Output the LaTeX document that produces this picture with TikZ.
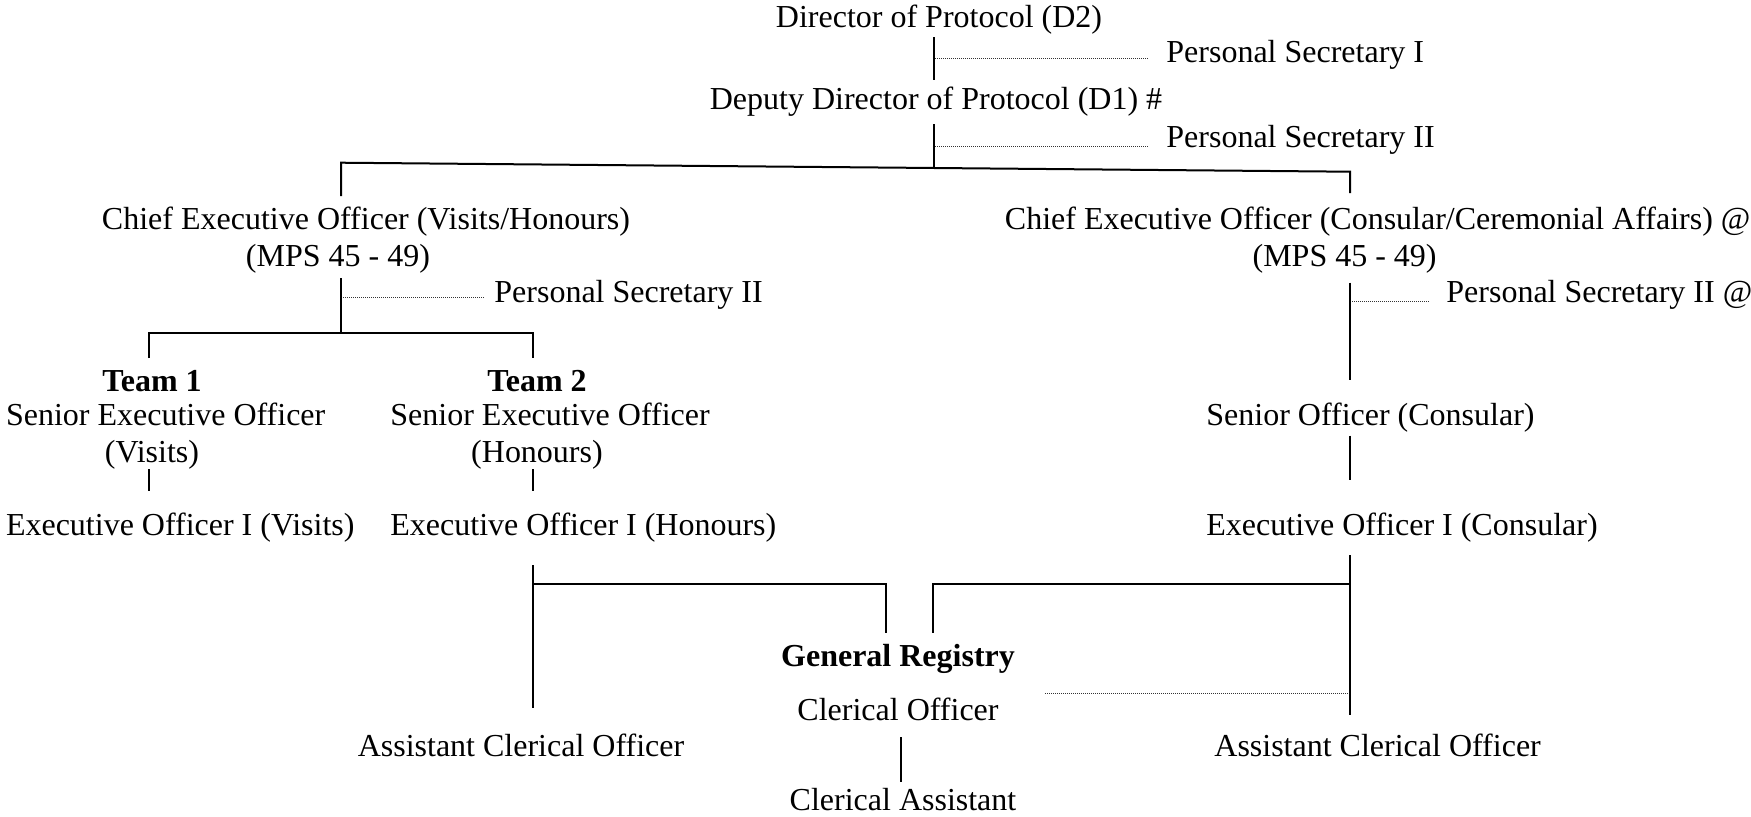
\documentclass[tikz,border=0pt]{standalone}
\usepackage{fontspec}
\setmainfont{Liberation Serif}
\begin{document}
\begin{tikzpicture}[x=0.5pt,y=-0.5pt,
  lbl/.style={inner sep=0pt, font=\fontsize{16}{18.4}\selectfont},
  hdr/.style={inner sep=0pt, font=\fontsize{16}{18.4}\selectfont\bfseries},
  orgline/.style={line width=1pt},
  secline/.style={line width=0.5pt, dash pattern=on 0.5pt off 0.5pt, black!80}]
\useasboundingbox (0,0) rectangle (1751,816);

% ---- posts ----
\node[lbl, anchor=base] (dir) at (939,27.5) {Director of Protocol (D2)};
\node[lbl, anchor=base west] (ps1) at (1166,62.5) {Personal Secretary I};
\node[lbl, anchor=base] (dep) at (936,109.5) {Deputy Director of Protocol (D1) \#};
\node[lbl, anchor=base west] (ps2) at (1166,147.5) {Personal Secretary II};

\node[lbl, anchor=base] (ceoA) at (366,229.5) {Chief Executive Officer (Visits/Honours)};
\node[lbl, anchor=base] (ceoAg) at (338,266.5) {(MPS 45 - 49)};
\node[lbl, anchor=base west] (psA) at (494,302.5) {Personal Secretary II};

\node[lbl, anchor=base] (ceoB) at (1377.6,229.5) {Chief Executive Officer (Consular/Ceremonial Affairs) @};
\node[lbl, anchor=base] (ceoBg) at (1344.6,266.5) {(MPS 45 - 49)};
\node[lbl, anchor=base west] (psB) at (1446,302.5) {Personal Secretary II @};

\node[hdr, anchor=base] (t1) at (152,391.5) {Team 1};
\node[lbl, anchor=base west] (seo1) at (5.6,425.5) {Senior Executive Officer};
\node[lbl, anchor=base] (seo1b) at (152,462.5) {(Visits)};
\node[lbl, anchor=base west] (eo1) at (5.6,535.5) {Executive Officer I (Visits)};

\node[hdr, anchor=base] (t2) at (537,391.5) {Team 2};
\node[lbl, anchor=base west] (seo2) at (390,425.5) {Senior Executive Officer};
\node[lbl, anchor=base] (seo2b) at (537,462.5) {(Honours)};
\node[lbl, anchor=base west] (eo2) at (390,535.5) {Executive Officer I (Honours)};

\node[lbl, anchor=base west] (soc) at (1206,425.5) {Senior Officer (Consular)};
\node[lbl, anchor=base west] (eoc) at (1206,535.5) {Executive Officer I (Consular)};

\node[hdr, anchor=base] (reg) at (898,666.5) {General Registry};
\node[lbl, anchor=base] (co) at (898,720.5) {Clerical Officer};
\node[lbl, anchor=base] (ca) at (903,810.5) {Clerical Assistant};
\node[lbl, anchor=base] (acoA) at (521,756.5) {Assistant Clerical Officer};
\node[lbl, anchor=base] (acoB) at (1377.6,756.5) {Assistant Clerical Officer};

% ---- junction points ----
\coordinate (dirS) at (933.5,37);
\coordinate (depN) at (933.5,80);
\coordinate (ps1J) at (935,58);
\coordinate (ps1W) at (1148,58);
\coordinate (depS) at (933.5,124);
\coordinate (barM) at (933.5,168);
\coordinate (ps2J) at (935,146.3);
\coordinate (ps2W) at (1148,146.3);
\coordinate (barL) at (341,162.7);
\coordinate (barR) at (1350,171.7);
\coordinate (ceoAN) at (341,196);
\coordinate (ceoBN) at (1350,193);

\coordinate (ceoAS) at (341,278);
\coordinate (teamM) at (341,333);
\coordinate (psAJ) at (343,297);
\coordinate (psAW) at (485,297);
\coordinate (teamL) at (149.3,333);
\coordinate (teamR) at (533.3,333);
\coordinate (t1N) at (149.3,358);
\coordinate (t2N) at (533.3,358);
\coordinate (seo1S) at (149,469);
\coordinate (eo1N) at (149,491);
\coordinate (seo2S) at (533,469);
\coordinate (eo2N) at (533,491);

\coordinate (ceoBS) at (1350,282.5);
\coordinate (socN) at (1350,380);
\coordinate (psBJ) at (1352,301.5);
\coordinate (psBW) at (1429,301.5);
\coordinate (socS) at (1350,435.5);
\coordinate (eocN) at (1350,480);

\coordinate (eo2S) at (533,565);
\coordinate (acoAN) at (533,708);
\coordinate (regLJ) at (533,584.3);
\coordinate (regLC) at (886,584.3);
\coordinate (regLN) at (886,632.7);
\coordinate (regRN) at (933,632.7);
\coordinate (regRC) at (933,584.3);
\coordinate (regRJ) at (1350,584.3);
\coordinate (eocS) at (1350,555);
\coordinate (acoBN) at (1350,715);
\coordinate (coE) at (1045,693.3);
\coordinate (coJ) at (1348,693.3);
\coordinate (coS) at (901,737);
\coordinate (caN) at (901,782);

% ---- reporting lines ----
\draw[orgline] (dirS) -- (depN);
\draw[secline] (ps1J) -- (ps1W);
\draw[orgline] (depS) -- (barM);
\draw[secline] (ps2J) -- (ps2W);
\draw[orgline] (ceoAN) -- (barL) -- (barR) -- (ceoBN);

\draw[orgline] (ceoAS) -- (teamM);
\draw[secline] (psAJ) -- (psAW);
\draw[orgline] (t1N) -- (teamL) -- (teamR) -- (t2N);
\draw[orgline] (seo1S) -- (eo1N);
\draw[orgline] (seo2S) -- (eo2N);

\draw[orgline] (ceoBS) -- (socN);
\draw[secline] (psBJ) -- (psBW);
\draw[orgline] (socS) -- (eocN);

\draw[orgline] (eo2S) -- (acoAN);
\draw[orgline] (regLJ) -- (regLC) -- (regLN);
\draw[orgline] (regRN) -- (regRC) -- (regRJ);
\draw[orgline] (eocS) -- (acoBN);
\draw[secline] (coE) -- (coJ);
\draw[orgline] (coS) -- (caN);
\end{tikzpicture}
\end{document}
